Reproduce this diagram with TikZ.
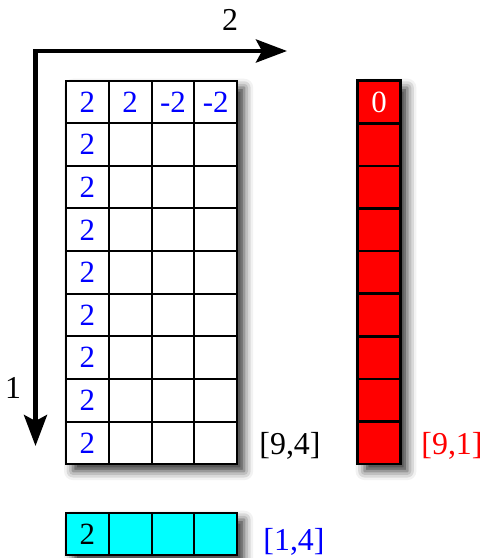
\documentclass[tikz,border=0pt]{standalone}
\usepackage{fontspec}
\setmainfont{Liberation Serif}
\usetikzlibrary{shadows.blur,arrows.meta}
\definecolor{cyanrgb}{RGB}{0,255,255}
\definecolor{redrgb}{RGB}{255,0,0}
\definecolor{bluergb}{RGB}{0,0,255}
\begin{document}
\begin{tikzpicture}[x=1bp,y=-1bp,
  cellbox/.style={draw, line width=2bp, minimum width=42.8bp, minimum height=42.6bp,
    inner sep=0pt, anchor=center},
  gridcell/.style={cellbox, fill=white},
  redcell/.style={cellbox, fill=redrgb, line width=2.6bp},
  cyancell/.style={cellbox, fill=cyanrgb},
  celltext/.style={font=\fontsize{31}{33}\selectfont, inner sep=0pt},
  shadowbg/.style={fill=white, inner sep=0pt,
    blur shadow={shadow xshift=7bp, shadow yshift=-7bp, shadow blur radius=9bp, shadow opacity=80}},
  lbl/.style={font=\fontsize{32}{34}\selectfont, inner sep=0pt},
  axis/.style={line width=4.5bp, line join=miter,
    {Stealth[length=31bp,width=23bp,inset=6bp]}-{Stealth[length=31bp,width=23bp,inset=6bp]}}]
\useasboundingbox (0,0) rectangle (484,558);
% shadow backgrounds
\node[shadowbg, minimum width=171.2bp, minimum height=383.4bp] (gridbg) at (151.6,272.4) {};
\node[shadowbg, minimum width=42.8bp, minimum height=383.4bp] (redbg) at (379,272.4) {};
\node[shadowbg, minimum width=171.2bp, minimum height=42.6bp] (cyanbg) at (151.6,534) {};
% main grid and red column
\foreach \r in {1,...,9}{
  \foreach \c in {1,...,4}{
    \node[gridcell] (g-\r-\c) at ({66+42.8*(\c-0.5)},{80.7+42.6*(\r-0.5)}) {};
  }
  \node[redcell] (r-\r) at (379,{80.7+42.6*(\r-0.5)}) {};
}
\node[celltext, text=bluergb] at (g-1-1) {2};
\node[celltext, text=bluergb] at (g-1-2) {2};
\node[celltext, text=bluergb] at (g-1-3) {-2};
\node[celltext, text=bluergb] at (g-1-4) {-2};
\foreach \r in {2,...,9}{
  \node[celltext, text=bluergb] at (g-\r-1) {2};
}
\node[celltext, text=white] at (r-1) {0};
% cyan row
\foreach \c in {1,...,4}{
  \node[cyancell] (c-\c) at ({66+42.8*(\c-0.5)},534) {};
}
\node[celltext] at (c-1) {2};
% axes
\coordinate (o) at (35.5,51);
\coordinate (xend) at (287,51);
\coordinate (yend) at (35.5,446);
\draw[axis] (yend) -- (o) -- (xend);
\node[lbl] (lx) at (230,20) {2};
\node[lbl] (ly) at (13,388) {1};
% labels
\node[lbl] (l94) at (290,446) {[9,4]};
\node[lbl, text=redrgb] (l91) at (452,446) {[9,1]};
\node[lbl, text=bluergb] (l14) at (294,542) {[1,4]};
\end{tikzpicture}
\end{document}
